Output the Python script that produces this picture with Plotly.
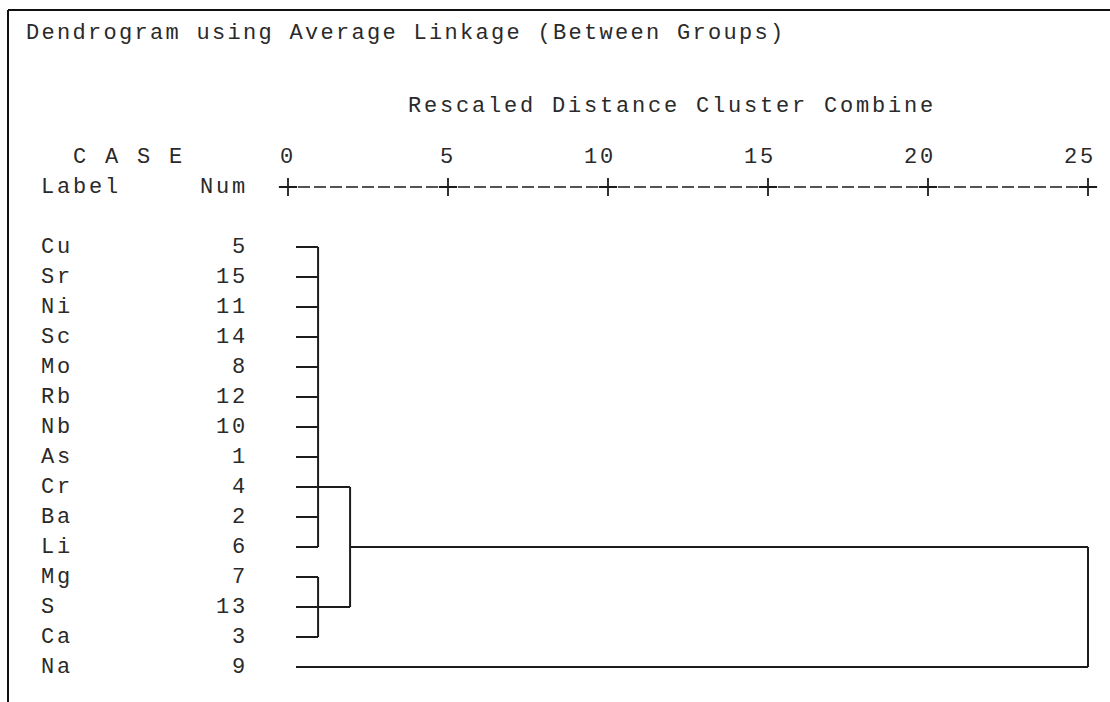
import plotly.graph_objects as go

W, H = 1110, 702

# ---- data -------------------------------------------------------------
labels = ["Cu", "Sr", "Ni", "Sc", "Mo", "Rb", "Nb", "As",
          "Cr", "Ba", "Li", "Mg", "S", "Ca", "Na"]
case_nums = [5, 15, 11, 14, 8, 12, 10, 1, 4, 2, 6, 7, 13, 3, 9]

tick_values = [0, 5, 10, 15, 20, 25]
tick_labels = ["0", "5", "10", "15", "20", "25"]

# rescaled distance at which each case first joins a cluster
leaf_start = 0.25
leaf_join = [0.94, 0.94, 0.94, 0.94, 0.94, 0.94, 0.94, 0.94,
             0.94, 0.94, 0.94, 0.94, 0.94, 0.94, 25]

# vertical connectors of each merge (level, first row, last row)
merge_level = [0.94, 0.94, 1.94, 25]
merge_top = [0, 11, 8, 10]
merge_bottom = [10, 13, 12, 14]

# horizontal links carrying a cluster up to its next merge
link_row = [8, 12, 10]
link_from = [0.94, 0.94, 1.94]
link_to = [1.94, 1.94, 25]

# ---- layout helpers ---------------------------------------------------
PX_PER_UNIT = 32.0
X0_PX = 288.0          # pixel column of distance 0
ROW0_PX = 247.0        # pixel row of the first case
ROW_PX = 30.0

x_range = [-X0_PX / PX_PER_UNIT, (W - X0_PX) / PX_PER_UNIT]
y_range = [(H - ROW0_PX) / ROW_PX, -ROW0_PX / ROW_PX]

INK = "#1c1c1c"
TEXT = "#2a2a2a"
FONT = "Liberation Mono"
FS = 22
SP = 2.8               # extra letter spacing -> ~16px character pitch


def px_to_x(px):
    return (px - X0_PX) / PX_PER_UNIT


def spaced(s, sp=SP):
    return f'<span style="letter-spacing:{sp}px">{s}</span>'


fig = go.Figure()

# dendrogram branches
xs, ys = [], []
for r, end in enumerate(leaf_join):
    xs += [leaf_start, end, None]
    ys += [r, r, None]
for lv, t, b in zip(merge_level, merge_top, merge_bottom):
    xs += [lv, lv, None]
    ys += [t, b, None]
for r, a, b in zip(link_row, link_from, link_to):
    xs += [a, b, None]
    ys += [r, r, None]
fig.add_trace(go.Scatter(x=xs, y=ys, mode="lines",
                         line=dict(color=INK, width=2),
                         hoverinfo="skip", showlegend=False))

# text-style ruler: dashes between "+" tick marks
ruler_row = -2
fig.add_trace(go.Scatter(x=[px_to_x(X0_PX + 10), tick_values[-1]],
                         y=[ruler_row, ruler_row], mode="lines",
                         line=dict(color=INK, width=1.6, dash="12px,4px"),
                         hoverinfo="skip", showlegend=False))
fig.add_trace(go.Scatter(x=tick_values, y=[ruler_row] * len(tick_values),
                         mode="markers",
                         marker=dict(symbol="cross-thin", size=13,
                                     line=dict(color=INK, width=1.8)),
                         hoverinfo="skip", showlegend=False))

# tick numbers above the ruler
for v, t in zip(tick_values, tick_labels):
    fig.add_annotation(x=v + 0.3, y=-3, text=spaced(t), showarrow=False,
                       xanchor="right", yanchor="middle",
                       font=dict(family=FONT, size=FS, color=TEXT))

# case labels and numbers
for r, (lab, n) in enumerate(zip(labels, case_nums)):
    fig.add_annotation(x=px_to_x(39), y=r, text=spaced(lab),
                       showarrow=False, xanchor="left", yanchor="middle",
                       font=dict(family=FONT, size=FS, color=TEXT))
    fig.add_annotation(x=px_to_x(250), y=r, text=spaced(str(n)),
                       showarrow=False, xanchor="right", yanchor="middle",
                       font=dict(family=FONT, size=FS, color=TEXT))

# header block
fig.add_annotation(x=px_to_x(71), y=-3, text=spaced("C A S E"),
                   showarrow=False, xanchor="left", yanchor="middle",
                   font=dict(family=FONT, size=FS, color=TEXT))
fig.add_annotation(x=px_to_x(39), y=-2, text=spaced("Label"),
                   showarrow=False, xanchor="left", yanchor="middle",
                   font=dict(family=FONT, size=FS, color=TEXT))
fig.add_annotation(x=px_to_x(250), y=-2, text=spaced("Num"),
                   showarrow=False, xanchor="right", yanchor="middle",
                   font=dict(family=FONT, size=FS, color=TEXT))

fig.add_annotation(x=24 / W, y=1 - 34 / H, xref="paper", yref="paper",
                   text=spaced("Dendrogram using Average Linkage (Between Groups)", 2.3),
                   showarrow=False, xanchor="left", yanchor="middle",
                   font=dict(family=FONT, size=FS, color=TEXT))
fig.add_annotation(x=406 / W, y=1 - 106 / H, xref="paper", yref="paper",
                   text=spaced("Rescaled Distance Cluster Combine"),
                   showarrow=False, xanchor="left", yanchor="middle",
                   font=dict(family=FONT, size=FS, color=TEXT))

# output window frame (top and left edges)
fig.add_shape(type="line", xref="paper", yref="paper",
              x0=8 / W, x1=1, y0=1 - 10 / H, y1=1 - 10 / H,
              line=dict(color="#111111", width=2))
fig.add_shape(type="line", xref="paper", yref="paper",
              x0=8 / W, x1=8 / W, y0=1 - 10 / H, y1=0,
              line=dict(color="#111111", width=2))

fig.update_xaxes(range=x_range, visible=False, fixedrange=True)
fig.update_yaxes(range=y_range, visible=False, fixedrange=True)
fig.update_layout(width=W, height=H, margin=dict(l=0, r=0, t=0, b=0),
                  paper_bgcolor="white", plot_bgcolor="white",
                  showlegend=False)

fig.write_html("out.html")
